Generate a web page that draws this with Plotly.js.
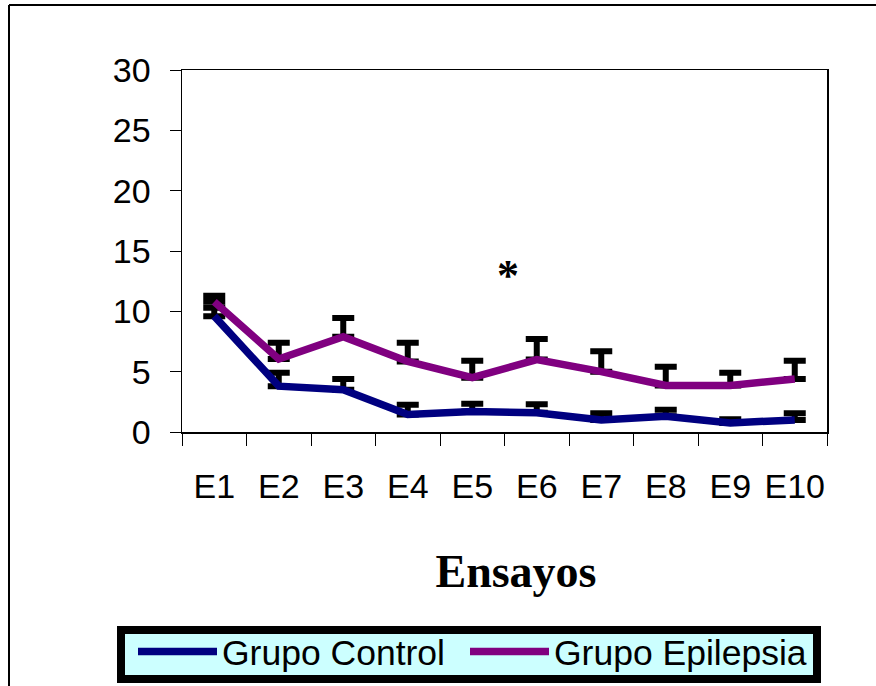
<!DOCTYPE html>
<html>
<head>
<meta charset="utf-8">
<script src="https://cdn.plot.ly/plotly-3.0.1.min.js"></script>
<style>
html,body{margin:0;padding:0;background:#fff;}
#chart{width:876px;height:686px;}
</style>
</head>
<body>
<div id="chart"></div>
<script>
// Data
const categories = ["E1","E2","E3","E4","E5","E6","E7","E8","E9","E10"];
const controlMean = [9.6, 3.8, 3.5, 1.45, 1.7, 1.6, 1.0, 1.3, 0.75, 1.0];
const controlErr  = [0.7, 1.1, 0.9, 0.8, 0.65, 0.7, 0.55, 0.55, 0.3, 0.55];
const epilepsiaMean = [10.8, 6.05, 7.9, 5.85, 4.5, 6.0, 5.0, 3.85, 3.85, 4.4];
const epilepsiaErr  = [0.5, 1.35, 1.55, 1.55, 1.4, 1.7, 1.7, 1.55, 1.05, 1.5];
const zeros = categories.map(() => 0);

const axisFont = {family: "Arial, 'Liberation Sans', sans-serif", size: 34, color: "#000"};
const legendFont = {family: "Arial, 'Liberation Sans', sans-serif", size: 35.5, color: "#000"};

const traces = [
  {
    name: "Grupo Control",
    legend: "legend",
    x: categories, y: controlMean,
    type: "scatter", mode: "lines",
    line: {color: "#000080", width: 7.5},
    error_y: {type: "data", symmetric: false, array: controlErr, arrayminus: zeros,
              color: "#000", thickness: 6, width: 11}
  },
  {
    name: "Grupo Epilepsia",
    legend: "legend2",
    x: categories, y: epilepsiaMean,
    type: "scatter", mode: "lines",
    line: {color: "#800080", width: 7.5},
    error_y: {type: "data", symmetric: false, array: epilepsiaErr, arrayminus: zeros,
              color: "#000", thickness: 6, width: 11}
  }
];

// plot area: x 182..827, y 70..432
const L = 182, R = 827, T = 70, B = 432;
const px = v => (v - L) / (R - L);
const py = v => (B - v) / (B - T);

const legendBase = {
  orientation: "h",
  xanchor: "left",
  y: py(622), yanchor: "top",
  bgcolor: "rgba(0,0,0,0)", borderwidth: 0,
  itemwidth: 79,
  font: legendFont
};

const layout = {
  width: 876, height: 686,
  margin: {l: L, r: 876 - R, t: T, b: 686 - B, autoexpand: false},
  paper_bgcolor: "#fff", plot_bgcolor: "#fff",
  showlegend: true,
  hovermode: false,
  xaxis: {
    type: "category",
    range: [-0.5, 9.5],
    tickson: "boundaries",
    tickangle: 0,
    automargin: false,
    ticks: "outside", ticklen: 12, tickcolor: "#000", tickwidth: 1,
    ticklabelstandoff: 24,
    showline: true, linecolor: "#000", linewidth: 1.5, mirror: true,
    showgrid: false, zeroline: false,
    tickfont: axisFont,
    title: {text: "&nbsp;&nbsp;Ensayos", standoff: 50,
            font: {family: "'Times New Roman', 'Liberation Serif', serif", size: 46, color: "#000", weight: "bold"}}
  },
  yaxis: {
    range: [0, 30], dtick: 5,
    automargin: false,
    ticks: "outside", ticklen: 11, tickcolor: "#000", tickwidth: 1,
    ticklabelstandoff: 12,
    showline: true, linecolor: "#000", linewidth: 1.5, mirror: true,
    showgrid: false, zeroline: false,
    tickfont: axisFont
  },
  legend: Object.assign({}, legendBase, {x: px(133)}),
  legend2: Object.assign({}, legendBase, {x: px(465)}),
  annotations: [
    {x: 4.56, y: 13.0, xref: "x", yref: "y", text: "<b>*</b>", showarrow: false,
     font: {family: "'Liberation Serif', serif", size: 44, color: "#000"}}
  ],
  shapes: [
    // outer figure frame
    {type: "line", xref: "paper", yref: "paper", x0: px(9), x1: px(9), y0: py(5), y1: py(700),
     line: {color: "#000", width: 2}},
    {type: "line", xref: "paper", yref: "paper", x0: px(9), x1: px(900), y0: py(5), y1: py(5),
     line: {color: "#000", width: 2}},
    // legend box
    {type: "rect", xref: "paper", yref: "paper", x0: px(121), x1: px(817), y0: py(630), y1: py(679),
     fillcolor: "#CCFFFF", line: {color: "#000", width: 8}}
  ]
};

Plotly.newPlot("chart", traces, layout, {displayModeBar: false, staticPlot: true});
</script>
</body>
</html>
